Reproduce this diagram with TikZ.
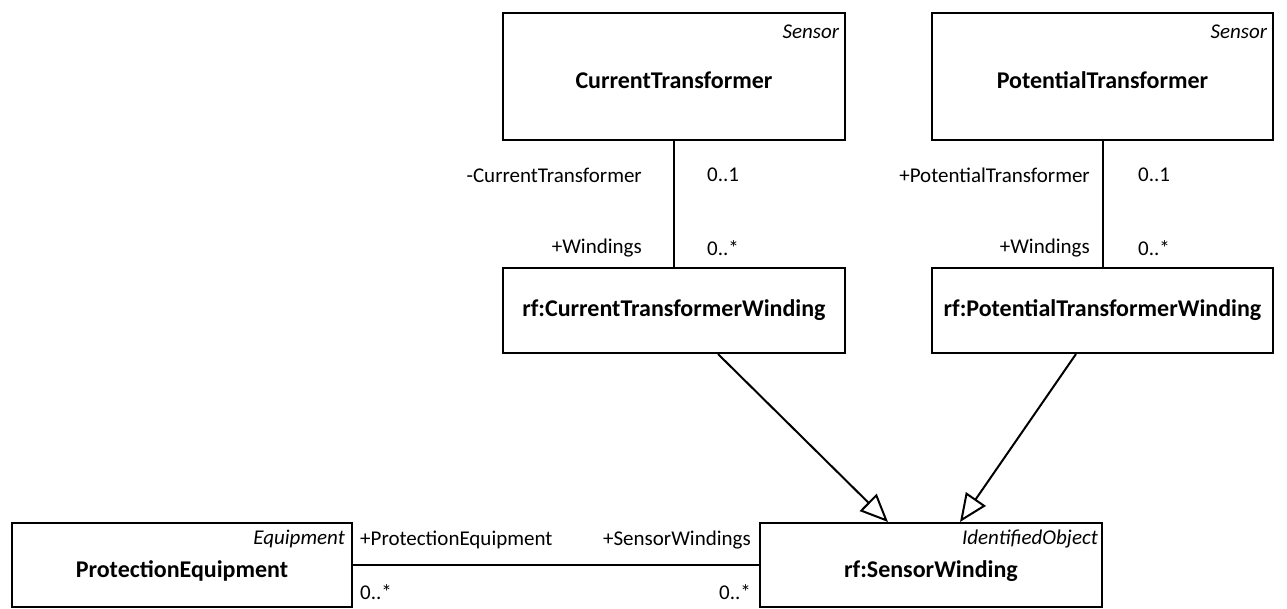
\documentclass[tikz,border=0pt]{standalone}
\usepackage{fontspec}
\setmainfont{Carlito}
\usetikzlibrary{arrows.meta,calc}
\begin{document}
\begin{tikzpicture}[x=1pt,y=-1pt,
  cls/.style={draw,line width=2pt,inner sep=0pt,font=\fontsize{24}{26}\selectfont\bfseries},
  clsthick/.style={cls,line width=2.6pt},
  cname/.style={inner sep=0pt,font=\fontsize{24}{26}\selectfont\bfseries},
  stereo/.style={anchor=north east,inner sep=0pt,font=\fontsize{21}{23}\selectfont\itshape},
  lbl/.style={inner sep=0pt,font=\fontsize{21}{23}\selectfont},
  assoc/.style={line width=2pt},
  gen/.style={line width=2pt,-{Triangle[open,length=28pt,width=24pt,line width=2pt]}}
]
\useasboundingbox (0,0) rectangle (1287,608);
% classes
\node[clsthick,minimum width=342pt,minimum height=127pt] (ct) at (674,76.5) {};
\node[cname] (ctn) at (674,80) {CurrentTransformer};
\node[stereo] (cts) at ($(ct.north east)+(-7,13)$) {Sensor};

\node[clsthick,minimum width=341pt,minimum height=127pt] (pt) at (1102.5,76.5) {};
\node[cname] (ptn) at (1102.5,80) {PotentialTransformer};
\node[stereo] (pts) at ($(pt.north east)+(-7,13)$) {Sensor};

\node[cls,minimum width=342pt,minimum height=85pt] (ctw) at (674,310.5) {rf:CurrentTransformerWinding};
\node[cls,minimum width=341pt,minimum height=85pt] (ptw) at (1102.5,310.5) {rf:PotentialTransformerWinding};

\node[cls,minimum width=340pt,minimum height=84pt] (pe) at (182,565) {};
\node[cname] (pen) at (182,571) {ProtectionEquipment};
\node[stereo] (pes) at ($(pe.north east)+(-8,8)$) {Equipment};

\node[cls,minimum width=342pt,minimum height=84pt] (sw) at (931,565) {};
\node[cname] (swn) at (931,571) {rf:SensorWinding};
\node[stereo] (sws) at ($(sw.north east)+(-5,8)$) {IdentifiedObject};

% associations
\draw[assoc] (ct.south) -- (ctw.north);
\draw[assoc] (pt.south) -- (ptw.north);
\draw[assoc] (pe.east) -- (sw.west);

% generalizations
\draw[gen] ($(ctw.south)+(44,0)$) -- ($(sw.north)+(-43,0)$);
\draw[gen] ($(ptw.south)+(-26.5,0)$) -- ($(sw.north)+(29,0)$);

% role labels
\node[lbl,anchor=east] (l1) at (642,175) {-CurrentTransformer};
\node[lbl,anchor=west] (l2) at (707,175) {0..1};
\node[lbl,anchor=east] (l3) at (642,248) {+Windings};
\node[lbl,anchor=west] (l4) at (707,248) {0..*};

\node[lbl,anchor=east] (l5) at (1090,175) {+PotentialTransformer};
\node[lbl,anchor=west] (l6) at (1138,175) {0..1};
\node[lbl,anchor=east] (l7) at (1090,248) {+Windings};
\node[lbl,anchor=west] (l8) at (1138,248) {0..*};

\node[lbl,anchor=west] (l9) at (360,540) {+ProtectionEquipment};
\node[lbl,anchor=west] (l10) at (360,592) {0..*};
\node[lbl,anchor=east] (l11) at (751,540) {+SensorWindings};
\node[lbl,anchor=east] (l12) at (751,592) {0..*};
\end{tikzpicture}
\end{document}
